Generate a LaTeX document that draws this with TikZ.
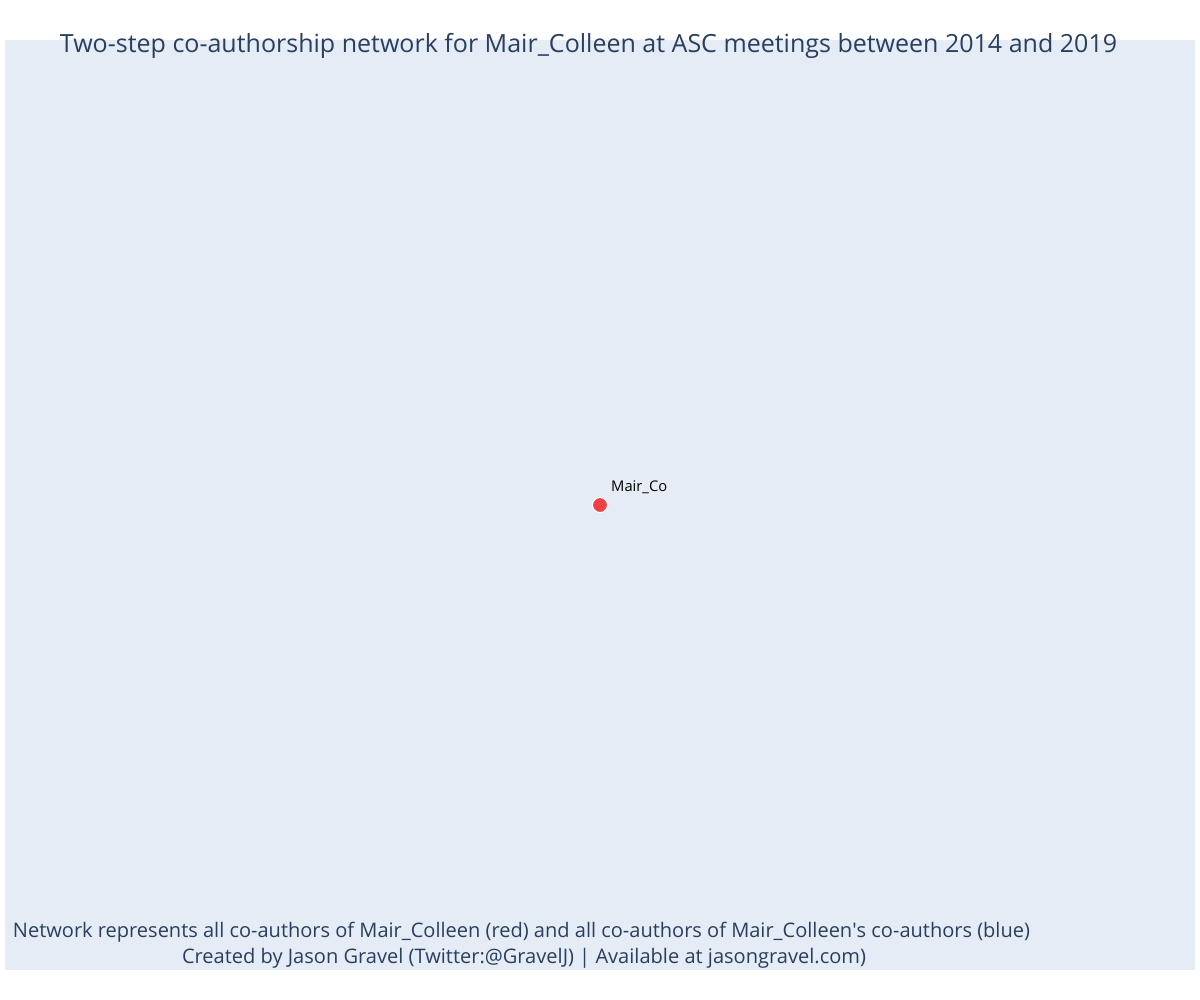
\documentclass[tikz,border=0pt]{standalone}
\usepackage{fontspec}
\setmainfont{Open Sans}
\usepackage{graphicx}
\definecolor{plotbg}{HTML}{E5ECF6}
\definecolor{titlecol}{HTML}{2A3F5F}
\definecolor{nodered}{RGB}{239,64,68}
\begin{document}
\begin{tikzpicture}[x=1pt,y=-1pt,
  txt/.style={inner sep=0pt,outer sep=0pt,text=titlecol},
  authornode/.style={circle,fill=nodered,draw=white,line width=1pt,minimum size=15pt,inner sep=0pt}]
\useasboundingbox (0,0) rectangle (1200,1000);
\fill[white] (0,0) rectangle (1200,1000);
\fill[plotbg] (5,40) rectangle (1195,970);
\node[txt,anchor=center] (title) at (588.5,46) {\resizebox{1057pt}{!}{\fontsize{20}{24}\selectfont Two-step co-authorship network for Mair\_Colleen at ASC meetings between 2014 and 2019}};
\node[authornode] (mair) at (600,505) {};
\node[inner sep=0pt,anchor=west,font=\fontsize{15}{17}\selectfont] (mairlbl) at (611,487) {\resizebox{56pt}{!}{Mair\_Co}};
\node[txt,anchor=center] (foot1) at (521.5,932.5) {\resizebox{1017pt}{!}{\fontsize{19}{22}\selectfont Network represents all co-authors of Mair\_Colleen (red) and all co-authors of Mair\_Colleen\textquotesingle s co-authors (blue)}};
\node[txt,anchor=center] (foot2) at (524,958.5) {\resizebox{684pt}{!}{\fontsize{19}{22}\selectfont Created by Jason Gravel (Twitter:@GravelJ) | Available at jasongravel.com)}};
\end{tikzpicture}
\end{document}
